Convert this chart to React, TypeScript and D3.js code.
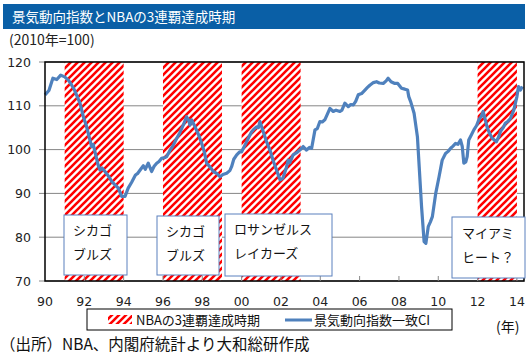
import React from "react";
import * as d3 from "d3";

const titleText = "景気動向指数とNBAの3連覇達成時期";
const unitText = "(2010年=100)";
const sourceText = "（出所）NBA、内閣府統計より大和総研作成";
const legendHatch = "NBAの3連覇達成時期";
const legendLine = "景気動向指数一致CI";
const yearUnit = "(年)";

const yTicks = [70, 80, 90, 100, 110, 120];
const xTickYears = [1990, 1992, 1994, 1996, 1998, 2000, 2002, 2004, 2006, 2008, 2010, 2012, 2014];
const xTickLabels = ["90", "92", "94", "96", "98", "00", "02", "04", "06", "08", "10", "12", "14"];

const dynastyStart = [1991, 1996, 2000, 2012];
const dynastyEnd = [1994, 1999, 2003, 2014];
const dynastyLine1 = ["シカゴ", "シカゴ", "ロサンゼルス", "マイアミ"];
const dynastyLine2 = ["ブルズ", "ブルズ", "レイカーズ", "ヒート？"];

const ciDates = [
  1990.0, 1990.2, 1990.4, 1990.6, 1990.8, 1991.0, 1991.2, 1991.36, 1991.5, 1991.65, 1991.78, 1991.95,
  1992.1, 1992.2, 1992.37, 1992.45, 1992.6, 1992.7, 1992.8, 1992.9, 1993.05, 1993.25, 1993.4, 1993.55,
  1993.73, 1993.9, 1994.07, 1994.23, 1994.4, 1994.6, 1994.7, 1994.83, 1995.0, 1995.1, 1995.25, 1995.42,
  1995.55, 1995.68, 1995.8, 1995.93, 1996.1, 1996.19, 1996.35, 1996.5, 1996.7, 1996.85, 1997.03, 1997.2,
  1997.3, 1997.37, 1997.45, 1997.63, 1997.8, 1997.97, 1998.1, 1998.22, 1998.4, 1998.56, 1998.75, 1998.9,
  1999.05, 1999.24, 1999.4, 1999.49, 1999.6, 1999.75, 1999.9, 2000.0, 2000.2, 2000.34, 2000.5, 2000.59,
  2000.76, 2000.85, 2000.93, 2001.1, 2001.25, 2001.44, 2001.6, 2001.78, 2001.95, 2002.1, 2002.25, 2002.37,
  2002.45, 2002.62, 2002.8, 2002.96, 2003.13, 2003.3, 2003.45, 2003.56, 2003.73, 2003.85, 2003.98, 2004.1,
  2004.23, 2004.35, 2004.49, 2004.66, 2004.8, 2005.0, 2005.1, 2005.25, 2005.42, 2005.55, 2005.68, 2005.8,
  2005.93, 2006.1, 2006.27, 2006.4, 2006.52, 2006.7, 2006.86, 2007.0, 2007.2, 2007.35, 2007.45, 2007.6,
  2007.79, 2007.94, 2008.13, 2008.3, 2008.44, 2008.5, 2008.6, 2008.77, 2008.94, 2009.03, 2009.15, 2009.28,
  2009.37, 2009.49, 2009.6, 2009.7, 2009.87, 2010.04, 2010.2, 2010.37, 2010.5, 2010.63, 2010.75, 2010.88,
  2011.0, 2011.13, 2011.22, 2011.3, 2011.4, 2011.47, 2011.55, 2011.7, 2011.81, 2011.95, 2012.06, 2012.18,
  2012.28, 2012.38, 2012.48, 2012.6, 2012.74, 2012.85, 2012.96, 2013.08, 2013.16, 2013.3, 2013.41, 2013.55,
  2013.67, 2013.84, 2014.0, 2014.08, 2014.18, 2014.28,
];
const ciValues = [
  112.5, 113.5, 116.3, 116.0, 117.0, 116.6, 115.8, 114.7, 113.6, 112.0, 110.6, 107.5,
  105.5, 103.7, 100.7, 101.2, 98.4, 96.5, 95.3, 95.8, 95.0, 93.8, 92.7, 92.0,
  91.2, 89.3, 89.3, 91.2, 92.5, 94.2, 94.5, 95.3, 96.3, 95.5, 96.9, 95.0,
  96.2, 96.9, 97.3, 98.0, 98.2, 98.4, 99.8, 100.8, 102.6, 103.8, 105.6, 107.5,
  106.8, 105.6, 106.8, 105.2, 103.5, 101.4, 99.5, 96.9, 96.0, 95.0, 94.5, 93.8,
  94.3, 94.6, 95.2, 96.1, 97.8, 98.8, 99.5, 99.5, 101.3, 102.6, 104.0, 104.5,
  105.2, 105.0, 106.4, 104.1, 102.0, 99.9, 97.5, 95.3, 93.1, 93.5, 95.5, 97.6,
  97.0, 98.8, 99.3, 99.9, 100.7, 99.9, 100.5, 100.3, 104.5, 104.8, 106.4, 106.3,
  106.8, 108.0, 109.4, 108.7, 109.0, 108.7, 109.0, 110.6, 109.8, 110.3, 110.2, 111.0,
  112.5, 112.8, 113.6, 114.2, 114.7, 115.3, 115.5, 115.2, 115.1, 115.7, 116.3, 115.5,
  115.1, 115.1, 114.0, 113.8, 113.6, 112.1, 110.9, 108.3, 102.9, 96.1, 87.0, 79.0,
  78.6, 82.4, 83.5, 84.7, 90.0, 93.8, 97.6, 99.1, 99.6, 100.3, 100.8, 101.4,
  101.2, 102.2, 100.7, 96.9, 97.2, 98.4, 102.2, 103.5, 104.5, 105.5, 106.8, 107.5,
  108.7, 107.0, 105.2, 103.8, 102.6, 102.2, 101.8, 103.0, 104.1, 105.0, 106.0, 106.5,
  107.1, 109.0, 112.1, 114.4, 113.6, 114.4,
];

const W = 531;
const H = 355;
const PL = 45;
const PR = 524;
const PT = 62;
const PB = 281;

const jp = "'Noto Sans CJK JP', 'Noto Sans', sans-serif";
const num = "'DejaVu Sans', Verdana, sans-serif";
const lineColor = "#4F81BD";
const boxColor = "#5B80BE";

export default function App() {
  const x = d3.scaleLinear().domain([1990, 2014.36]).range([PL, PR]);
  const y = d3.scaleLinear().domain([70, 120]).range([PB, PT]);
  const data = ciDates.map((d, i) => [d, ciValues[i]] as [number, number]);
  const line = d3
    .line<[number, number]>()
    .x((d) => x(d[0]))
    .y((d) => y(d[1]));

  const boxes = [
    { x0: 64, x1: 127, y0: 215, y1: 275 },
    { x0: 157, x1: 219, y0: 216, y1: 275 },
    { x0: 225, x1: 332, y0: 214, y1: 276 },
    { x0: 452, x1: 525, y0: 217, y1: 278 },
  ];

  return (
    <div style={{ position: "absolute", left: 0, top: 0 }}>
      <svg width={W} height={H} style={{ display: "block", background: "#fff" }}>
        <defs>
          <pattern id="hatch" patternUnits="userSpaceOnUse" width={7} height={7}>
            <rect width={7} height={7} fill="#fff" />
            <path d="M-1,8 L8,-1 M-4.5,4.5 L4.5,-4.5 M2.5,11.5 L11.5,2.5" stroke="#FF0000" strokeWidth={2.6} />
          </pattern>
        </defs>

        {/* title bar */}
        <rect x={3} y={4} width={522} height={25} fill="#0A5FA6" />
        <text x={12} y={21.5} fill="#fff" fontFamily={jp} fontSize={13.5}>
          {titleText}
        </text>
        <text x={9} y={45} fill="#222" fontFamily={jp} fontSize={14}>
          {unitText}
        </text>

        {/* gridlines */}
        {yTicks.map((t) => (
          <line key={"g" + t} x1={39} x2={PR} y1={y(t)} y2={y(t)} stroke="#868686" strokeWidth={1} />
        ))}
        {yTicks.map((t) => (
          <text key={"yl" + t} x={31} y={y(t) + 4.5} textAnchor="end" fontFamily={num} fontSize={12.5} fill="#222">
            {t}
          </text>
        ))}

        {/* hatched periods */}
        {dynastyStart.map((s, i) => (
          <rect
            key={"h" + i}
            x={x(s)}
            y={PT}
            width={x(dynastyEnd[i]) - x(s)}
            height={PB - PT}
            fill="url(#hatch)"
          />
        ))}

        {/* CI line */}
        <path d={line(data) || ""} fill="none" stroke={lineColor} strokeWidth={3.2} strokeLinejoin="round" />

        {/* plot border */}
        <rect x={PL} y={PT} width={PR - PL} height={PB - PT} fill="none" stroke="#000" strokeWidth={1.5} />

        {/* x ticks */}
        {xTickYears.map((t, i) => (
          <g key={"xt" + t}>
            {i > 0 ? <line x1={x(t)} x2={x(t)} y1={PB} y2={PB - 5} stroke="#888" strokeWidth={1} /> : null}
            <text x={x(t)} y={306} textAnchor="middle" fontFamily={num} fontSize={12.5} fill="#222">
              {xTickLabels[i]}
            </text>
          </g>
        ))}

        {/* annotation boxes */}
        {boxes.map((b, i) => (
          <g key={"b" + i}>
            <rect x={b.x0} y={b.y0} width={b.x1 - b.x0} height={b.y1 - b.y0} fill="#fff" stroke={boxColor} strokeWidth={1} />
            <text x={b.x0 + (i === 3 ? 10 : 9)} y={b.y0 + (i === 3 ? 21 : 20)} fontFamily={jp} fontSize={13} fill="#111">
              {dynastyLine1[i]}
            </text>
            <text x={b.x0 + (i === 3 ? 10 : 9)} y={b.y0 + (i === 3 ? 45 : 44)} fontFamily={jp} fontSize={13} fill="#111">
              {dynastyLine2[i]}
            </text>
          </g>
        ))}

        {/* legend */}
        <rect x={87} y={309} width={365} height={21} fill="#fff" stroke="#000" strokeWidth={1} />
        <rect x={108} y={315} width={24} height={9} fill="url(#hatch)" />
        <text x={136} y={324.5} fontFamily={jp} fontSize={13} fill="#111">
          {legendHatch}
        </text>
        <line x1={285} x2={312} y1={320} y2={320} stroke={lineColor} strokeWidth={3} />
        <text x={314} y={324.5} fontFamily={jp} fontSize={13} fill="#111">
          {legendLine}
        </text>
        <text x={496} y={332} fontFamily={jp} fontSize={14} fill="#111">
          {yearUnit}
        </text>

        {/* source */}
        <text x={0} y={350} fontFamily={jp} fontSize={15.5} fill="#111">
          {sourceText}
        </text>
      </svg>
    </div>
  );
}
